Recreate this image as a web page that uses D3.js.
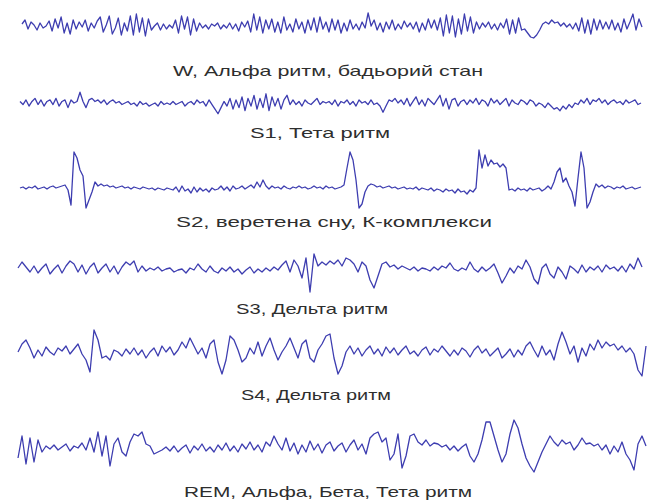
<!DOCTYPE html>
<html lang="uk">
<head>
    <meta charset="UTF-8">
    <title>Стадії сну — ЕЕГ</title>
    <script src="https://d3js.org/d3.v7.min.js"></script>
    <style>
        body {
            margin: 0;
            background: #fff;
        }
        .trace {
            fill: none;
            stroke: #3d3db0;
            stroke-width: 1.3;
            stroke-linejoin: round;
        }
        .label {
            font-family: "Liberation Sans", Arial, sans-serif;
            font-size: 15px;
            fill: #2e2e2e;
        }
    </style>
</head>
<body>
    <svg id="chart" width="654" height="502"></svg>

    <script>
        // stage names (captions under each trace)
        const labels = [
            "W, Альфа ритм, бадьорий стан",
            "S1, Тета ритм",
            "S2, веретена сну, К-комплекси",
            "S3, Дельта ритм",
            "S4, Дельта ритм",
            "REM, Альфа, Бета, Тета ритм"
        ];

        // amplitudes, one sample every few pixels (positive = up)
        const wake = [
            2, 6, -3, 4, 1, -4, 3, -2, 0, 5,
            -5, 7, -2, 9, -7, 3, -8, 6, -3,
            4, -1, 6, -5, 3, -2, 5,
            9, -6, 1, 10, -8, -2, 8, -9, 3,
            -5, 10, -9, 12, -6, 8, -10, 7, -4,
            0, 3, -4, 2, -3, 1, -2,
            6, -7, 10, -3, 9, -9, 7, -5, 3,
            -2, 1, -3, 2, 0, 3, -3, 1, -2,
            3, -3, 2, -5, 4, -1, 5,
            -6, 12, -4, 9, -7, 6, -3,
            7, -6, 4, -7, 9, -4, 2, -6, 7, -3, 4,
            -7, 6, -4, 8, -6, 9, -3, 4, -6,
            7, -4, 6, -7, 3, -5, 6, -3, 2,
            -4, 4, -2, 13, 0, 6, -4, 3, -6,
            4, -3, 6, -4, 2, -3, 5, -1, 3,
            -3, 4, -6, 3, -4, 7, -2, 6, -4,
            8, -10, 11, -7, 10, -11, 7, -8, 12, -5, 9, -7, 4,
            -3, 3, -1, 4, -3, 2, -4, 3, -2,
            7, -8, 6, -7, 8, -4,
            -3, -7, -11, -12, -9, -4, 2,
            4, 2, 6, 3, 4, 0, 3, -1, 2, -3, 3,
            -5, 8, -7, 6, -8, 7, -4, 6, -3,
            4, -3, 6, -4, 3, -6, 7, -3, 4,
            12, -4, 7, -1
        ];

        const s1 = [
            1, -1, 2, -2, 1, 3, -1, 2, -2, 1,
            2, -1, 3, -2, 1, 2, -3, 2, 0, 1,
            7, 1, -3, 2, 3, 1, 2,
            0, 2, -1, 1, 2, 0, 1, -1, 0, 1,
            -1, 0, -2, 1, -1, 0, -2, -1, 0, -2, 1, -1, 0, -1,
            1, -1, 0, 1, -2, 0, 1, -1, 2, 0,
            1, -2, 2, -1, -4, -7, -3, 1,
            -2, 3, -4, 2, -3, 4, -5, 3, -2, 5, -4, 3,
            -3, 6, -5, 4, -2, 3, -4, 2, 5, -1,
            2, -1, 1, -2, 2, 0, -1, 1, 3, -1, 1, 0,
            1, -1, 2, -2, 1, 0, 2, -1, 1, -2, 2, 0, 1, -1, 2, -1, 0, -2,
            -6, -2, 2, 1, 3, 0, 2,
            -1, 3, -2, 1, 4, -1, 2, -2, 3, 1, -1, 2, 5,
            -2, 3, -4, 2, 3, -2, 1, 2, -1,
            2, 0, 3, -1, 2, 1, -2, 3, 0, 2, -1, 1, 3, -2, 2, 0, -1, 2, 1, -1, 2,
            1, -2, 0, -1, -3, 0, -2, -4, -3, -5, -2, -4, -1, -3, 0, -1,
            2, 0, 3, -1, 2, 1, 3, 0, 2, -1, 1, 2, 0, 1, -1, 2, 0, 1, 2, -1, 0
        ];

        const s2 = [
            0, 1, -1, 1, 0, 2, -1, 0, 1, -1, 1, 2, 0, 1, 2,
            3, -2, -17, 36, 30, 18, 12, -20, -12, -4, 6, 2,
            4, 2, 3, 1, 2, 0, 1, 2, 0, 1, -1, 1, 0, -1, 1, 0, -1, 0, -2, 0, -1, -2, 0, -1,
            -2, 1, -4, 2, -3, -1, -5, 1, -4, 0, -3, -1, -4, 0, -2,
            -1, 2, -2, 1, -3, 2, -1, 0, 2, -1,
            1, 3, 0, 6, 1, 8, 2,
            -1, 2, 0, 1, -1, 2, 0, -1, 1, 0, 2, 0,
            1, -1, 0, 2, 0, 1, -1, 2, 0, 1, -1, 0, 1, 3,
            20, 36, 28, 8, -20, -16, -4, 2,
            4, 3, 1, 2, 0, 1, 2, 0, 1, -1, 0, 1, -1, 0, -1, 1, -2, 0, -1, -2,
            0, -3, -1, -2, -4, -1, -3, -2, -5, -1, -4, -3, -6, -2,
            -4, 0, 38, 20, 33, 22, 28, 24, 25, 21, 24, 20, -2,
            -1, -3, 0, -2, -1, -3, 0, -2, -1, 0, -3, -1, 2, -1,
            6, 16, 20, 6, 10, 2, -4, -18, 10, 36, 20, -20, -14, -4, 4,
            1, 3, 0, 2, 1, -1, 1, 0, 2, -1, 0, 1, -1, 0, 1
        ];

        const s3 = [
            2, 8, 3, -2, 4, -3, 2, 6, -4, 1, 5,
            -3, 4, 9, 6, -2, 5, -4, 3, 7, -3,
            2, 6, -2, 4, -4, 3, 8, 5, 9, -2,
            4, -1, 2, 0, 3, -1, 1, 2, -2, 0,
            1, -3, 2, 0, 6, 1, -2, 4, -1, -3,
            2, -1, 3, -2, 1, -4, 0, 3, -3, 1,
            -2, 2, -1, 3, 0, 5, 9, -2, 10, 4,
            -8, 12, -22, 16, 4, 8, 5, 9, 6, 10,
            4, 12, 10, 6, -2, 8, 4, -10, -18, -6,
            6, 8, 3, 5, 1, 4, 2, 0, 3, -1,
            2, 1, -1, 3, 0, 4, 2, 7, 1, -1,
            2, 0, 8, 1, -2, 3, -1, 2, 6, -3,
            -13, -6, 2, -3, 4, 1, 10, 3, -9, -14,
            2, 6, -4, -8, 3, -2, -9, 4, 1, -3,
            5, -2, 3, 0, 4, -2, 5, 1, 3, -1,
            4, -2, 6, 1, 12, 3
        ];

        const s4 = [
            0, 8, 12, 4, -6, 2, -4, 5, 0, -3,
            4, 1, 6, -2, 3, 8, -2, -8, -20, 22,
            12, -6, -4, -8, 2, 0, -4, 3, -2, 4,
            -3, 2, -6, 0, 4, -4, 6, 0, 5, -3,
            2, 10, 4, 14, 6, -2, 4, -6, 8, 12,
            -10, -22, -8, 16, 12, 2, -10, -6, 4, -2,
            10, -4, 6, 14, 2, -8, 0, 6, 14, 4,
            -6, 8, 12, -6, -10, 2, 8, 16, 18, -6,
            -22, -14, 0, 6, -2, 4, -4, 2, 6, -2,
            3, -4, 5, -1, 4, -3, 2, 6, -2, 1,
            -4, 2, 5, -3, 3, 0, 6, 1, -4, 2,
            -3, 4, 1, -5, 2, 6, -1, 3, -4, 0,
            4, -6, -2, 3, -5, 2, -3, 6, 10, 2,
            -5, 6, -3, 2, -8, 8, 20, 10, -2, 6,
            -10, 4, -4, 8, 2, 12, 4, 10, 6, 8,
            2, 6, 0, 4, -2, -18, -24, 6
        ];

        const rem = [
            -10, 12, -16, 10, -14, 8, -4, 2, -1, 3,
            -2, 1, 4, -3, 2, 0, 5, -2, 10, -4,
            16, -8, 12, -18, 4, 10, -4, -8, 6, 14,
            12, 16, 4, 2, -6, -4, -2, 1, -3, 2,
            -4, 0, 3, -5, 2, -2, 4, -3, 1, -4,
            3, -2, 5, -3, 2, -4, 4, -1, 6, -2,
            3, -4, 6, 2, 12, 4, -2, 10, -3, 5,
            -6, 3, -4, 7, -2, 4, -5, 3, 6, -3,
            2, 5, -4, 3, 8, -2, 4, -6, 10, 14,
            16, 6, 10, -12, -6, 14, -20, -8, 12, 14,
            6, 3, 8, 2, 5, 4, 1, 3, -2, 2,
            -3, 1, 4, -8, -14, -6, 8, 26, 26, 12,
            -2, -14, -6, 14, 28, 20, 4, -10, -18, -24,
            -14, -4, 4, 12, 6, 2, 8, 4, 6, -2,
            3, 10, 4, 5, 2, 4, -2, 3, -6, 2,
            -4, 6, -6, -12, -22, 4, 12, 2
        ];

        const series = [wake, s1, s2, s3, s4, rem];

        // layout per row: trace baseline, half-height of the value range, x extent,
        // caption centre / baseline / stretched width (the source picture is widened)
        const rows = [
            { base: 26, half: 20, x0: 22, x1: 642, tx: 328, ty: 76, tw: 310 },
            { base: 103, half: 13, x0: 20, x1: 641, tx: 320, ty: 138, tw: 140 },
            { base: 188, half: 20, x0: 20, x1: 641, tx: 334, ty: 227, tw: 316 },
            { base: 270, half: 20, x0: 18, x1: 642, tx: 312, ty: 314, tw: 152 },
            { base: 352, half: 20, x0: 18, x1: 646, tx: 316, ty: 400, tw: 150 },
            { base: 448, half: 20, x0: 18, x1: 646, tx: 328, ty: 497, tw: 288 }
        ];

        const svg = d3.select("#chart");

        series.forEach((values, k) => {
            const r = rows[k];
            const x = d3.scaleLinear().domain([0, values.length - 1]).range([r.x0, r.x1]);
            const y = d3.scaleLinear().domain([-r.half, r.half]).range([r.base + 20, r.base - 20]);

            const line = d3.line()
                .x((d, i) => x(i))
                .y(d => y(d));

            svg.append("path")
                .attr("class", "trace")
                .attr("d", line(values));

            svg.append("text")
                .attr("class", "label")
                .attr("x", r.tx - r.tw / 2)
                .attr("y", r.ty)
                .attr("textLength", r.tw)
                .attr("lengthAdjust", "spacingAndGlyphs")
                .text(labels[k]);
        });
    </script>
</body>
</html>
